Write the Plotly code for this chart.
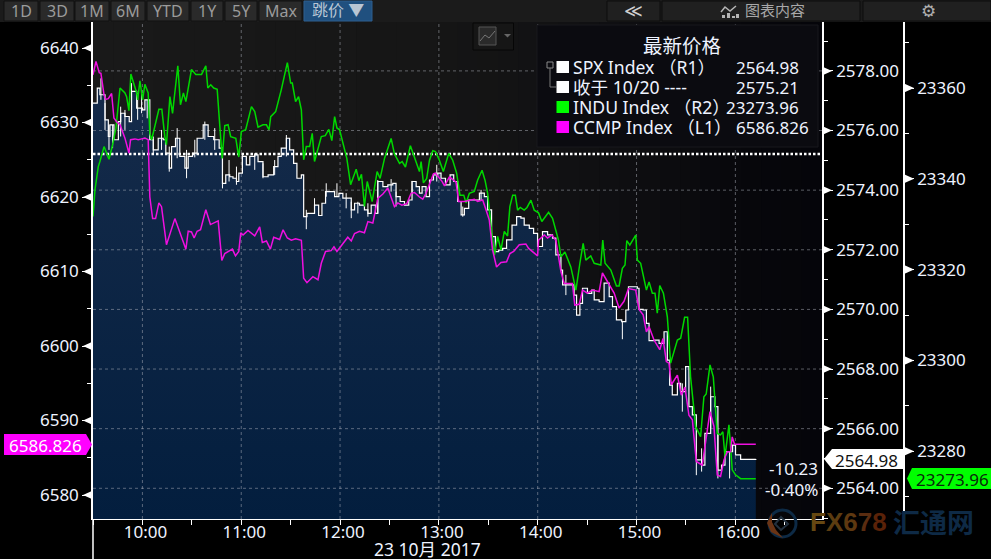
import plotly.graph_objects as go

# ---- data: minutes after 09:30 and index levels ----
indu_t = [0,1.2,3.2,4.2,6.7,9.7,11.9,13.9,16.4,19.4,20.4,21.8,23,25.1,26.5,27.1,28.5,30.1,31.5,33.5,34.5,35.6,37.6,40,41.8,43.6,44.6,46.7,48.3,51.5,53.1,54.9,56.4,59.8,62.4,65.9,68.5,69.7,71.5,73.3,75.4,78.4,80,82,83.6,86.7,88.5,90.1,92.7,96.2,98.2,100.2,103.2,105.3,106.9,107.9,110.9,114.3,118,120,121,123,124.8,126.5,127.9,129.5,131.5,133.1,134.5,138.6,141,143.2,145,146.7,148.1,149.7,154.1,156.4,159.8,161.4,163,164.8,166.5,169.5,172.5,174.3,177,181,183,186.1,187.7,189.7,192.7,196.2,198.2,
          199.2,200.6,202.6,204.3,206.3,207.9,210.3,212.7,216,218.4,220.8,222.8,225.1,226.5,228.5,231.5,233.5,236.2,238,239.6,241.6,243.7,245.7,247.7,249.7,251.7,253.1,254.8,256.4,257.8,259.4,261.8,263.5,265.9,267.9,270.5,272.5,276.6,279,282.6,284.1,286.5,290.1,293.2,295.6,297.6,299.2,302.2,304.3,308.3,309.5,310.9,314.4,317.8,319.4,321.4,323,324.1,325.9,329.5,330.5,332.5,336,337.6,339.6,341.2,342.6,344.1,346.3,348.7,350.7,354.8,356.8,359.2,361,362.8,365.9,368.9,370.9,372.3,374.6,376.6,379,381,382.4,383.7,386.1,388.1,390.1,393.2,402.4]
indu_v = [23331.7,23337.6,23342.7,23343.8,23347.1,23344.3,23347.5,23351.1,23360.0,23358.9,23358.1,23355.0,23363.1,23360.3,23358.9,23357.4,23361.6,23357.4,23360.8,23358.9,23350.0,23348.6,23351.9,23355.3,23355.3,23349.3,23347.5,23358.1,23354.4,23364.9,23356.3,23358.9,23357.0,23364.1,23363.0,23363.0,23364.9,23360.0,23360.7,23360.0,23359.7,23344.5,23351.7,23351.9,23349.3,23348.9,23344.8,23350.4,23350.8,23355.9,23354.8,23351.4,23351.9,23351.9,23350.8,23353.7,23354.8,23359.6,23365.6,23361.1,23361.1,23357.0,23358.1,23355.2,23344.2,23347.1,23347.1,23350.0,23343.8,23349.3,23349.5,23350.9,23348.4,23353.7,23351.2,23350.8,23344.5,23338.7,23342.1,23339.6,23341.0,23333.9,23339.4,23335.0,23341.6,23340.1,23344.5,23348.9,23345.5,23343.4,23343.8,23342.6,23347.3,23343.4,23341.6,
          23343.8,23339.1,23340.1,23344.1,23346.2,23346.0,23344.1,23341.6,23345.6,23344.1,23341.2,23336.4,23336.4,23334.7,23336.8,23337.2,23339.7,23341.9,23339.7,23336.8,23329.8,23323.2,23327.3,23324.3,23328.4,23327.4,23333.9,23336.4,23336.4,23333.1,23333.7,23333.1,23333.7,23335.3,23333.1,23332.5,23330.6,23332.6,23331.3,23326.5,23322.8,23323.9,23320.6,23315.5,23321.4,23325.8,23322.1,23323.0,23321.4,23321.0,23326.5,23321.4,23319.9,23316.4,23316.4,23320.3,23321.0,23326.4,23325.4,23327.6,23322.1,23321.4,23315.5,23317.3,23314.8,23314.8,23310.4,23316.5,23314.8,23309.6,23299.4,23304.5,23304.9,23309.5,23309.5,23296.4,23285.4,23283.2,23292.0,23292.6,23299.0,23296.4,23283.9,23283.6,23284.3,23278.8,23285.8,23275.9,23274.8,23273.96,23273.96]

ccmp_t = [0,1.8,3.8,4.8,6.7,7.7,9.3,11.3,12.7,14.3,16.4,19.4,21.8,22.8,25.5,27.5,29.5,31.5,33.5,34.5,36.2,38,40,41.6,44.6,49.7,56.4,57.8,59.8,61.4,63.2,65.3,68.5,71.3,76,78.2,80,82.4,84.6,86.5,88.5,89.7,91.1,94.1,98.2,101.2,102.8,105.3,107.7,109.7,113.3,115.4,118,120.4,123,126.5,127.9,129.9,133.5,136.6,138.6,141.2,144.6,146.3,148.1,154.7,156.8,158.8,161.8,164.8,166.9,169.9,171.9,172.9,176,179,183,185.1,187.5,190.5,193.1,195.2,198.2,
          200.2,202.2,203.9,206.7,207.9,211.9,213.4,216.4,220.4,222,225.5,228.5,231.5,233.5,236.6,238.6,240.6,242.6,245,247.7,251.1,253.1,255.4,258.8,262.8,264.5,267.9,269.9,270.5,274,276,278.6,281,284.1,286.1,291.1,292.5,295.2,297.2,300.2,303.2,307.3,309.3,312.3,316.4,319.4,322.4,325.1,329.5,331.5,334,336,337.6,340.6,344.1,346.1,348.1,349.7,351.1,354.8,357.2,359.4,361.8,363.9,366.3,369.9,374.6,377,379,381,383.1,385.1,387.1,388.1,389.5,402.4]
ccmp_v = [6636.4,6638.2,6636.7,6636.6,6633.7,6633.1,6633.2,6633.9,6630.6,6630.1,6629.7,6627.9,6625.9,6627.7,6627.8,6627.7,6627.8,6627.9,6627.7,6620.0,6617.1,6617.1,6619.2,6618.7,6613.6,6617.1,6613.0,6615.4,6615.3,6614.5,6615.4,6615.6,6618.3,6616.3,6616.8,6611.5,6612.4,6612.7,6613.0,6612.1,6612.7,6615.2,6614.9,6615.5,6614.8,6616.0,6613.9,6614.1,6613.0,6614.6,6614.3,6615.6,6614.5,6614.2,6614.4,6614.2,6609.1,6608.5,6609.3,6608.9,6611.1,6612.7,6612.8,6613.3,6612.7,6614.6,6614.1,6615.1,6615.4,6615.2,6616.7,6616.5,6618.7,6619.8,6620.4,6621.2,6618.7,6619.2,6618.9,6619.1,6620.5,6620.6,6620.0,
          6619.7,6620.5,6621.5,6623.1,6623.2,6622.1,6621.5,6622.7,6622.0,6619.4,6619.4,6619.6,6619.7,6619.4,6619.6,6618.3,6616.9,6612.9,6610.6,6611.2,6611.3,6612.4,6612.7,6613.6,6613.7,6613.1,6612.4,6612.1,6614.2,6614.9,6614.5,6614.9,6614.2,6610.0,6608.4,6608.4,6605.5,6605.6,6607.5,6607.1,6607.5,6607.3,6609.8,6608.6,6607.1,6605.1,6606.0,6607.7,6607.5,6604.9,6604.2,6601.9,6602.6,6600.8,6599.5,6601.0,6597.9,6597.7,6594.8,6596.1,6593.4,6594.5,6590.7,6590.1,6584.5,6584.0,6591.2,6589.2,6582.7,6582.5,6584.7,6585.8,6585.8,6587.8,6586.826,6586.826]

spx_t = [0,2.6,4.2,7.3,9.3,10.3,12.7,15.4,16.8,19.4,22,23.4,26.5,30.1,31.5,34.5,36.6,39.6,42.6,44.2,46.3,47.7,50.1,52.7,55.8,57.8,60.4,63.2,66.9,69.9,73.3,76.6,78.6,80.6,83,85,87.1,88.5,90.7,93.1,95.2,98.2,100.2,103.2,106.3,109.7,112.3,114.3,117.4,119.4,121.8,123.8,126.5,127.9,129.9,132.5,134.5,137,139,141.2,143.6,146.7,149.3,151.7,154.7,156.8,158.8,161.8,164.8,166.9,168.9,171.5,172.9,176,179,182,184,186.5,189.1,191.7,193.7,196.2,
         198.2,199.8,202.2,204.3,206.7,209.3,211.3,214,216.8,219,221.4,223.5,225.5,228.1,231.5,234.6,237.6,239.6,242,244.3,246.3,248.7,251.1,254.4,257.2,259.8,261.8,264.9,267.5,269.9,272.9,276,279,281,284.1,285.1,288.5,292.1,293.6,295.6,297.2,300.2,302.8,304.3,307.3,310.3,313.4,315.4,317.8,321,323.5,325.1,330.5,331.5,334,336,337.6,340.6,343.7,346.7,348.7,350.1,351.7,354.8,356.8,359.8,361.8,363.9,366.3,369.5,371.5,375,377.6,379.4,381.6,383.7,386.5,388.3,390.1,393.2,402.4]
spx_v = [2576.92,2577.42,2577.20,2576.36,2575.80,2576.19,2575.69,2576.30,2576.58,2576.47,2576.30,2577.31,2576.75,2576.69,2577.03,2575.69,2575.35,2575.74,2575.69,2575.24,2574.74,2575.46,2575.74,2575.13,2574.74,2575.13,2575.24,2575.74,2576.19,2575.80,2575.69,2575.41,2574.23,2574.51,2574.45,2574.40,2574.29,2574.57,2575.13,2574.85,2575.13,2575.18,2574.96,2574.45,2574.51,2574.79,2575.13,2575.41,2575.74,2575.35,2574.90,2574.40,2574.51,2573.11,2573.22,2573.22,2573.50,2573.15,2573.56,2573.95,2573.95,2573.78,2573.89,2573.73,2573.73,2573.34,2573.56,2573.50,2573.34,2573.22,2573.50,2573.22,2574.29,2574.12,2574.18,2574.23,2573.78,2573.62,2573.50,2573.67,2574.29,2574.12,
         2573.90,2574.12,2573.78,2574.34,2574.51,2574.57,2574.40,2574.18,2574.51,2574.29,2573.62,2573.17,2573.39,2573.67,2573.67,2573.90,2573.78,2573.34,2572.44,2571.94,2571.99,2572.05,2572.33,2572.83,2573.11,2573.06,2572.83,2572.72,2572.55,2572.11,2572.61,2572.50,2572.39,2571.83,2571.32,2570.82,2570.82,2570.48,2569.81,2570.20,2570.71,2570.54,2570.65,2570.32,2570.26,2570.88,2570.43,2570.09,2569.65,2569.59,2569.98,2570.76,2570.71,2570.00,2569.98,2569.53,2568.95,2568.97,2568.86,2569.25,2568.30,2567.46,2567.13,2567.52,2567.24,2568.08,2566.74,2566.46,2564.95,2564.78,2565.84,2567.07,2566.74,2564.61,2564.78,2565.23,2565.23,2565.45,2565.12,2564.97,2564.98]

spike_t  = [4.8,7.3,9.7,11.9,16.8,19.4,23.4,27.1,29.5,32.9,36.6,41.6,46.3,51.1,56.8,61.8,67.9,73.9,78.6,82.6,87.1,90.7,98.2,103.2,110.3,117.4,129.5,134.5,141.6,148.1,153.7,156.8,160.8,166.9,172.9,181,184,193.7,208.7,224.5,235.6,287.1,321.4,357.8,366.3,369.5,375,379.4,386.5]
spike_hi = [2577.75,2576.92,2576.19,2576.19,2576.80,2576.69,2577.59,2577.25,2577.36,2577.03,2575.80,2576.02,2575.46,2576.08,2575.35,2575.69,2576.30,2576.08,2575.13,2575.01,2574.79,2575.24,2575.24,2574.90,2575.01,2575.85,2573.34,2573.73,2574.23,2574.23,2573.90,2573.61,2573.61,2573.56,2574.34,2574.37,2573.95,2574.31,2574.85,2573.45,2574.01,2571.16,2569.59,2567.52,2564.95,2565.34,2567.41,2565.84,2565.23]
spike_lo = [2577.03,2576.02,2575.35,2575.41,2575.80,2576.02,2576.69,2576.36,2576.58,2576.41,2575.24,2575.35,2574.62,2575.07,2574.40,2575.10,2575.69,2575.35,2574.06,2574.29,2574.18,2574.79,2574.68,2574.40,2574.51,2575.13,2572.69,2573.22,2573.78,2573.78,2573.39,2573.06,2573.22,2573.11,2573.22,2573.95,2573.45,2573.90,2574.29,2573.11,2573.67,2570.48,2569.00,2566.57,2564.44,2564.56,2566.01,2564.33,2564.33]

prev_close = 2575.21
x_ticks = [30,90,150,210,270,330,390]
x_labels = ["10:00","11:00","12:00","13:00","14:00","15:00","16:00"]
l1_ticks = [6580,6590,6600,6610,6620,6630,6640]
r1_ticks = [2564,2566,2568,2570,2572,2574,2576,2578]
r2_ticks = [23280,23300,23320,23340,23360]
period_buttons = ["1D","3D","1M","6M","YTD","1Y","5Y","Max"]
legend_rows = [("SPX Index （R1）","2564.98","#ffffff"),("收于 10/20 ----","2575.21","#ffffff"),
               ("INDU Index （R2）","23273.96","#00ff00"),("CCMP Index （L1）","6586.826","#ff00ff")]

# ---- layout constants (pixels of the 991x559 page) ----
W, H = 991, 559
L, R, T, B = 93, 822, 22, 519
R2X = 904
FONT = "Noto Sans, Noto Sans CJK SC, sans-serif"
TXT = "#eef3ff"
XR = [0, 442.6]
L1R = [6576.78, 6643.49]
R1R = [2562.97, 2579.64]
R2R = [23265.07, 23374.54]
px = lambda x: x / W
py = lambda y: 1 - y / H

shapes, ann = [], []
def rect(x0, y0, x1, y1, fill, line=None, layer="above"):
    shapes.append(dict(type="rect", xref="paper", yref="paper", x0=px(x0), x1=px(x1), y0=py(y0), y1=py(y1),
                       fillcolor=fill, line=dict(color=line or fill, width=1 if line else 0), layer=layer))
def poly(pts, fill=None, line=None, width=1, layer="above", close=True):
    d = "M " + " L ".join(f"{px(a):.5f},{py(b):.5f}" for a, b in pts) + (" Z" if close else "")
    shapes.append(dict(type="path", xref="paper", yref="paper", path=d, fillcolor=fill or "rgba(0,0,0,0)",
                       line=dict(color=line or "rgba(0,0,0,0)", width=width), layer=layer))
def text(x, y, s, size=17, color=TXT, anchor="center", family=FONT):
    ann.append(dict(xref="paper", yref="paper", x=px(x), y=py(y), text=s, showarrow=False, xanchor=anchor,
                    yanchor="middle", font=dict(family=family, size=size, color=color), borderpad=0, borderwidth=0))

# plot background: soft horizontal fade
stops = [(93,(25,25,25)),(420,(22,22,22)),(600,(16,16,18)),(750,(7,7,11)),(822,(5,5,10))]
n = 36
for i in range(n):
    x0 = L + (R - L) * i / n; x1 = L + (R - L) * (i + 1) / n; m = (x0 + x1) / 2
    for (a, ca), (b, cb) in zip(stops, stops[1:]):
        if a <= m <= b:
            f = (m - a) / (b - a)
            c = tuple(round(p + (q - p) * f) for p, q in zip(ca, cb))
    rect(x0, T, x1 + 0.6, B, "rgb(%d,%d,%d)" % c, layer="below")

# toolbar
rect(0, 0, W, T, "#1b1b1b", layer="below")
spans = [(4,38),(40,74),(75,109),(111,145),(147,189),(191,223),(225,257),(259,302)]
for (a, b), s in zip(spans, period_buttons):
    rect(a, 1, b, 21, "#2a2a2a", "#111111")
    text((a + b) / 2, 11.5, s, size=16, color="#9b9b9b")
rect(304, 1, 372, 21, "#20507f", "#2d5f90")
text(338, 10.5, "跳价 ▼", size=16, color="#b9c6d4")
rect(607, 1, 660, 21, "#202020", "#0c0c0c")
rect(662, 1, 860, 21, "#202020", "#0c0c0c")
rect(863, 1, 991, 21, "#202020", "#0c0c0c")
text(633, 10, "≪", size=18, color="#d0d0d0", family="DejaVu Sans")
text(775, 10.5, "图表内容", size=15, color="#a8a8a8")
text(928, 11, "⚙", size=17, color="#b0b0b0", family="DejaVu Sans")
poly([(721,12),(725,7),(730,11),(736,6)], line="#b5b5b5", width=1.5, close=False)
for a, h in [(722,3),(727,5),(732,2),(736,4)]:
    rect(a, 18 - h, a + 3, 18, "#b5b5b5")

# chart-style button
rect(473, 23, 513.5, 50, "#161616", "#060606")
rect(479, 27, 496, 45, "#2a2a2a", "#555555")
poly([(480,41),(485,35),(489,38),(495,31)], line="#777777", close=False)
poly([(504,34),(511,34),(507.5,37.5)], fill="#666666")

# legend
rect(537, 25, 818, 147, "#0b0b10", "#18181c")
text(682, 46, "最新价格", size=19.5)
rows_y = [67, 87, 107, 127]
for (name, val, col), y in zip(legend_rows, rows_y):
    rect(556.5, y - 6, 569, y + 6, col)
    text(573, y, name, size=17.6, anchor="left")
for (name, val, col), y, xe in zip(legend_rows, rows_y, [799, 799, 799, 809]):
    text(xe, y, val, size=17, anchor="right")
rect(547, 62, 553, 68, "#0b0b10", "#8a8a8a")
poly([(550,68),(550,87),(556,87)], line="#777777", close=False)

# current-value tags
poly([(832,449),(904,449),(904,469),(832,469),(824,459)], fill="#ffffff")
text(866, 460, "2564.98", color="#111111")
poly([(912,468),(991,468),(991,489),(912,489),(907,478.5)], fill="#00ff00")
text(952, 479, "23273.96", color="#0a2a0a")
poly([(4,434),(86,434),(92,444.5),(86,455),(4,455)], fill="#ff00ff")
text(45, 445, "6586.826", color="#ffffff")
text(818, 469, "-10.23", anchor="right")
text(818, 489, "-0.40%", anchor="right")
text(427, 548.5, "23 10月 2017", size=17.5)

# lower part of the left rule
poly([(L,B),(L,H)], line="#ffffff", width=1.5, close=False)

# watermark
shapes.append(dict(type="circle", xref="paper", yref="paper", x0=px(769), x1=px(796), y0=py(537), y1=py(510),
                   fillcolor="rgba(0,0,0,0)", line=dict(color="#0d2a45", width=3), layer="above"))
poly([(772,513),(767,523),(771,532),(783,538),(776,530),(772,522)], fill="#6a3415")
poly([(781,517),(788,524),(781,530),(775,524)], line="#22303e", width=2)
text(848, 522, '<b><span style="color:#664812">F</span><span style="color:#5c3c10">X</span><span style="color:#5e3810">6</span><span style="color:#5a2c10">7</span><span style="color:#5a2208">8</span></b>',
     size=26, family="Liberation Sans", color="#5a3512")
text(933, 522, "<b>汇通网</b>", size=27, color="#0e2a46")

# axis tick triangles
def tri(anchor_x, yref, v, direction):
    shapes.append(dict(type="path", xref="paper", yref=yref, xsizemode="pixel", ysizemode="pixel",
                       xanchor=px(anchor_x), yanchor=v, path=f"M 0,-4.5 L {direction*10},0 L 0,4.5 Z",
                       fillcolor="#ffffff", line=dict(width=0), layer="above"))
for v in l1_ticks: tri(L, "y3", v, -1)
for v in r1_ticks: tri(R, "y", v, 1)
for v in r2_ticks: tri(R2X, "y2", v, 1)

# ---- traces ----
GRID = "rgba(175,180,190,0.5)"
traces = []
traces.append(go.Scatter(x=spx_t, y=spx_v, yaxis="y", mode="lines", line=dict(width=0, shape="hv"),
                         fill="tozeroy",
                         fillgradient=dict(type="vertical", start=2562.97, stop=2577.5,
                                           colorscale=[[0,"#031e3e"],[1,"#152b4a"]])))
gx, gy = [], []
for v in r1_ticks:
    gx += [XR[0], XR[1], None]; gy += [v, v, None]
traces.append(go.Scatter(x=gx, y=gy, yaxis="y", mode="lines", line=dict(color=GRID, width=1, dash="3px,3px")))
gx, gy = [], []
for t in x_ticks:
    gx += [t, t, None]; gy += [R1R[0], R1R[1], None]
traces.append(go.Scatter(x=gx, y=gy, yaxis="y", mode="lines", line=dict(color=GRID, width=1, dash="3px,3px")))
traces.append(go.Scatter(x=[XR[0], XR[1]], y=[prev_close, prev_close], yaxis="y", mode="lines",
                         line=dict(color="#ffffff", width=2.5, dash="2.5px,2px")))
sx, sy = [], []
for t, a, b in zip(spike_t, spike_hi, spike_lo):
    sx += [t, t, None]; sy += [a, b, None]
traces.append(go.Scatter(x=sx, y=sy, yaxis="y", mode="lines", line=dict(color="#ffffff", width=1)))
traces.append(go.Scatter(x=spx_t, y=spx_v, yaxis="y", mode="lines", line=dict(color="#ffffff", width=1.2, shape="hv")))
traces.append(go.Scatter(x=indu_t, y=indu_v, yaxis="y2", mode="lines", line=dict(color="#00d800", width=1.5)))
traces.append(go.Scatter(x=ccmp_t, y=ccmp_v, yaxis="y3", mode="lines", line=dict(color="#f010e0", width=1.5)))

tickfont = dict(family=FONT, size=17, color=TXT)
dom = [py(B), py(T)]
def yax(rng, vals, minor, **kw):
    return dict(domain=dom, range=rng, tickmode="array", tickvals=vals, ticks="outside", ticklen=9, tickwidth=1,
                tickcolor="#ffffff", tickfont=tickfont, showgrid=False, zeroline=False, showline=True,
                linecolor="#ffffff", linewidth=1.5, fixedrange=True,
                minor=dict(ticks="outside", ticklen=4, tickcolor="#ffffff", tickwidth=1, dtick=minor, showgrid=False),
                **kw)

fig = go.Figure(traces)
fig.update_layout(
    width=W, height=H, margin=dict(l=0, r=0, t=0, b=0), autosize=False,
    paper_bgcolor="#000000", plot_bgcolor="rgba(0,0,0,0)", showlegend=False, hovermode=False,
    shapes=shapes, annotations=ann,
    xaxis=dict(domain=[px(L), px(R)], range=XR, tickmode="array", tickvals=x_ticks, ticktext=x_labels,
               ticks="outside", ticklen=5, tickcolor="#ffffff", tickfont=tickfont, showgrid=False, zeroline=False,
               showline=True, linecolor="#ffffff", linewidth=1, ticklabelshift=3, ticklabelstandoff=-7, fixedrange=True,
               minor=dict(ticks="outside", ticklen=5, tickcolor="#ffffff", dtick=60, tick0=0, showgrid=False)),
    yaxis=yax(R1R, r1_ticks, 1, side="right", anchor="x", tickformat=".2f"),
    yaxis2=yax(R2R, r2_ticks, 10, side="right", overlaying="y", anchor="free", position=px(R2X), tickformat="d"),
    yaxis3=yax(L1R, l1_ticks, 5, side="left", overlaying="y", anchor="x", tickformat="d"),
)
fig.write_html("out.html", config=dict(displayModeBar=False),
               post_script="document.body.style.margin='0';document.body.style.overflow='hidden';")
